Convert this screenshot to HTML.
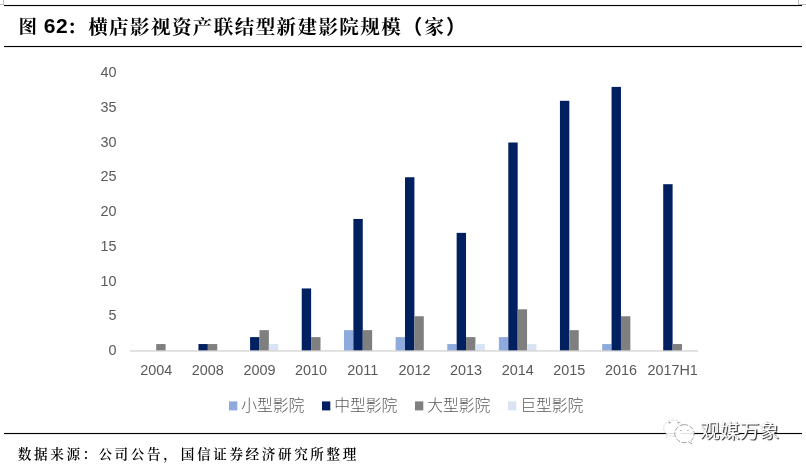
<!DOCTYPE html>
<html lang="zh-CN">
<head>
<meta charset="utf-8">
<title>图 62：横店影视资产联结型新建影院规模（家）</title>
<style>
html,body{margin:0;padding:0;background:#fff;}
body{width:806px;height:466px;position:relative;overflow:hidden;font-family:"Liberation Sans","Noto Sans CJK SC",sans-serif;}
.rule{position:absolute;left:4px;width:798px;height:1px;background:#000;box-shadow:0 0.5px 0 rgba(0,0,0,0.18),0 -0.5px 0 rgba(0,0,0,0.1);}
.title{position:absolute;left:0;top:12.6px;height:28px;width:806px;margin:0;font-weight:bold;color:#000;font-size:19.5px;font-family:"Liberation Sans","Noto Serif CJK SC",serif;}
.title span{position:absolute;top:0;height:28px;line-height:28px;white-space:nowrap;}
.title .p{font-family:"Liberation Sans","Noto Sans CJK SC",sans-serif;font-size:20px;font-weight:700;}
.title .n{font-family:"Liberation Sans",sans-serif;font-size:21px;letter-spacing:0.4px;}
.src{position:absolute;left:0;top:444.8px;height:20px;width:806px;font-size:13.6px;letter-spacing:2.6px;font-weight:600;color:#000;margin:0;font-family:"Liberation Serif","Noto Serif CJK SC",serif;}
svg{position:absolute;left:0;top:0;}
svg text{font-family:"Liberation Sans","Noto Sans CJK SC",sans-serif;font-size:14.4px;fill:#595959;}
svg text.lg{font-size:15.8px;letter-spacing:0;font-weight:300;}
.src span{position:absolute;top:0;height:20px;line-height:20px;white-space:nowrap;}
.wm{position:absolute;left:700px;top:417px;height:28px;line-height:28px;font-size:19.8px;color:#fff;white-space:nowrap;text-shadow:1.1px 1.1px 0.7px #3a3a3a, 0 0 0.8px #aaa;font-family:"Liberation Sans","Noto Sans CJK SC",sans-serif;}
.corner{position:absolute;border:0 solid #bdbdbd;}
</style>
</head>
<body>
<div class="corner" style="left:0;top:0;width:3px;height:4px;border-right-width:1px;border-bottom-width:1px;"></div>
<div class="corner" style="left:798px;top:0;width:8px;height:4px;border-left-width:1px;border-bottom-width:1px;"></div>
<div class="rule" style="top:5px"></div>
<h1 class="title"><span style="left:18.5px;font-size:18.5px">图</span><span class="n" style="left:43.8px;top:-0.8px">62</span><span style="left:67px">：</span><span style="left:88.2px;letter-spacing:1.43px">横店影视资产联结型新建影院规模</span><span class="p" style="left:402.3px">（</span><span style="left:424.5px">家</span><span class="p" style="left:446px">）</span></h1>
<div class="rule" style="top:46px"></div>
<svg width="806" height="466" viewBox="0 0 806 466">
<g>
<rect x="156.20" y="344.05" width="9.39" height="6.95" fill="#7f7f7f"/>
<rect x="198.45" y="344.05" width="9.39" height="6.95" fill="#002060"/>
<rect x="207.84" y="344.05" width="9.39" height="6.95" fill="#7f7f7f"/>
<rect x="250.09" y="337.10" width="9.39" height="13.90" fill="#002060"/>
<rect x="259.48" y="330.15" width="9.39" height="20.85" fill="#7f7f7f"/>
<rect x="268.87" y="344.05" width="9.39" height="6.95" fill="#dae3f3"/>
<rect x="301.73" y="288.45" width="9.39" height="62.55" fill="#002060"/>
<rect x="311.12" y="337.10" width="9.39" height="13.90" fill="#7f7f7f"/>
<rect x="343.98" y="330.15" width="9.39" height="20.85" fill="#8faadc"/>
<rect x="353.37" y="218.95" width="9.39" height="132.05" fill="#002060"/>
<rect x="362.76" y="330.15" width="9.39" height="20.85" fill="#7f7f7f"/>
<rect x="395.62" y="337.10" width="9.39" height="13.90" fill="#8faadc"/>
<rect x="405.01" y="177.25" width="9.39" height="173.75" fill="#002060"/>
<rect x="414.40" y="316.25" width="9.39" height="34.75" fill="#7f7f7f"/>
<rect x="447.26" y="344.05" width="9.39" height="6.95" fill="#8faadc"/>
<rect x="456.65" y="232.85" width="9.39" height="118.15" fill="#002060"/>
<rect x="466.04" y="337.10" width="9.39" height="13.90" fill="#7f7f7f"/>
<rect x="475.43" y="344.05" width="9.39" height="6.95" fill="#dae3f3"/>
<rect x="498.90" y="337.10" width="9.39" height="13.90" fill="#8faadc"/>
<rect x="508.29" y="142.50" width="9.39" height="208.50" fill="#002060"/>
<rect x="517.68" y="309.30" width="9.39" height="41.70" fill="#7f7f7f"/>
<rect x="527.07" y="344.05" width="9.39" height="6.95" fill="#dae3f3"/>
<rect x="559.93" y="100.80" width="9.39" height="250.20" fill="#002060"/>
<rect x="569.32" y="330.15" width="9.39" height="20.85" fill="#7f7f7f"/>
<rect x="602.18" y="344.05" width="9.39" height="6.95" fill="#8faadc"/>
<rect x="611.57" y="86.90" width="9.39" height="264.10" fill="#002060"/>
<rect x="620.96" y="316.25" width="9.39" height="34.75" fill="#7f7f7f"/>
<rect x="663.21" y="184.20" width="9.39" height="166.80" fill="#002060"/>
<rect x="672.60" y="344.05" width="9.39" height="6.95" fill="#7f7f7f"/>
<rect x="130" y="350.3" width="568" height="1.3" fill="#d2d2d2"/>
</g>
<g>
<text x="116.5" y="355.10" text-anchor="end">0</text>
<text x="116.5" y="320.35" text-anchor="end">5</text>
<text x="116.5" y="285.60" text-anchor="end">10</text>
<text x="116.5" y="250.85" text-anchor="end">15</text>
<text x="116.5" y="216.10" text-anchor="end">20</text>
<text x="116.5" y="181.35" text-anchor="end">25</text>
<text x="116.5" y="146.60" text-anchor="end">30</text>
<text x="116.5" y="111.85" text-anchor="end">35</text>
<text x="116.5" y="77.10" text-anchor="end">40</text>
<text x="156.20" y="375.3" text-anchor="middle">2004</text>
<text x="207.84" y="375.3" text-anchor="middle">2008</text>
<text x="259.48" y="375.3" text-anchor="middle">2009</text>
<text x="311.12" y="375.3" text-anchor="middle">2010</text>
<text x="362.76" y="375.3" text-anchor="middle">2011</text>
<text x="414.40" y="375.3" text-anchor="middle">2012</text>
<text x="466.04" y="375.3" text-anchor="middle">2013</text>
<text x="517.68" y="375.3" text-anchor="middle">2014</text>
<text x="569.32" y="375.3" text-anchor="middle">2015</text>
<text x="620.96" y="375.3" text-anchor="middle">2016</text>
<text x="672.60" y="375.3" text-anchor="middle">2017H1</text>
</g>
<g>
<rect x="229" y="401.4" width="8.3" height="9" fill="#8faadc"/>
<text x="241.2" y="411" class="lg">小型影院</text>
<rect x="322" y="401.4" width="8.3" height="9" fill="#002060"/>
<text x="334.2" y="411" class="lg">中型影院</text>
<rect x="415" y="401.4" width="8.3" height="9" fill="#7f7f7f"/>
<text x="427.2" y="411" class="lg">大型影院</text>
<rect x="508" y="401.4" width="8.3" height="9" fill="#dae3f3"/>
<text x="520.2" y="411" class="lg">巨型影院</text>
</g>
</svg>
<div class="rule" style="top:433px"></div>
<svg width="806" height="466" viewBox="0 0 806 466" style="pointer-events:none">
<g stroke-linejoin="round">
<path d="M673.4 420c-5.4 0-9.8 3.7-9.8 8.2 0 2.600 1.400 4.800 3.600 6.300l-1.100 3.100 3.700-1.900c1.100 0.400 2.300 0.600 3.600 0.600 5.400 0 9.800-3.600 9.800-8.100 0-4.500-4.400-8.200-9.800-8.200z" fill="#fff" fill-opacity="0.88" stroke="#bdbdbd" stroke-width="0.6" stroke-dasharray="2.2 1.300"/>
<path d="M684.5 424.700c-5.400 0-9.700 4-9.700 9 0 5 4.300 9 9.700 9 1.500 0 2.900-0.300 4.100-0.800l3.300 2-0.800-3.300c1.900-1.700 3.100-4.200 3.100-6.900 0-5-4.300-9-9.700-9z" fill="#fff" fill-opacity="0.88" stroke="#7d7d7d" stroke-width="0.7" stroke-dasharray="5 1.600"/>
</g>
<g fill="#8c8c8c">
<ellipse cx="669.600" cy="422.700" rx="1.100" ry="0.600"/><ellipse cx="678.500" cy="422.700" rx="1.100" ry="0.600"/>
<ellipse cx="681" cy="430.400" rx="0.900" ry="0.600" fill="#b5b5b5"/><ellipse cx="688" cy="430.400" rx="0.900" ry="0.600" fill="#b5b5b5"/>
</g>
</svg>
<div class="wm">观媒万象</div>
<p class="src"><span style="left:17.8px">数据来源：</span><span style="left:98.4px">公司公告，</span><span style="left:180.8px">国信证券经济研究所整理</span></p>
</body>
</html>
